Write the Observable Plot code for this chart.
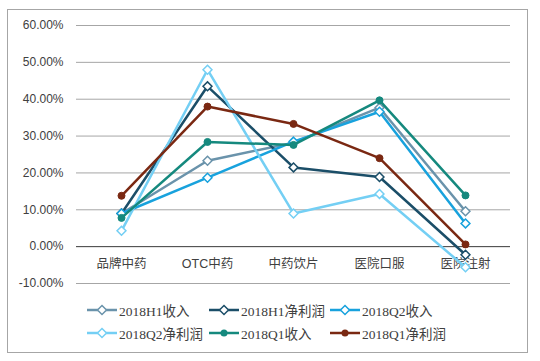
<!DOCTYPE html>
<html><head><meta charset="utf-8">
<script src="https://cdn.jsdelivr.net/npm/d3@7"></script>
<script src="https://cdn.jsdelivr.net/npm/@observablehq/plot@0.6"></script>
<style>
body{margin:0;background:#fff;}
#wrap{position:relative;width:540px;height:361px;overflow:hidden;background:#fff;}
#frame{position:absolute;left:7px;top:9px;width:519px;height:342px;border:1px solid #a6a6a6;}
#chart{position:absolute;left:0;top:0;}
.leg{position:absolute;display:flex;align-items:center;height:20px;font-size:13.5px;font-family:"Liberation Serif","Noto Sans CJK SC",serif;color:#404040;white-space:nowrap;}
.leg svg{margin-right:2px;}
</style></head><body>
<div id="wrap"><div id="frame"></div><div id="chart"></div><div id="legend"></div></div>
<script>
const categories = ["品牌中药", "OTC中药", "中药饮片", "医院口服", "医院注射"];
const seriesNames = ["2018H1收入", "2018H1净利润", "2018Q2收入", "2018Q2净利润", "2018Q1收入", "2018Q1净利润"];
const seriesColors = ["#6a93ab", "#1b4e68", "#18a2dd", "#74cff4", "#15897e", "#7a2812"];
const seriesSymbols = ["diamond2", "diamond2", "diamond2", "diamond2", "circle", "circle"];
const h1Revenue = [9.0, 23.3, 28.2, 37.7, 9.6];
const h1Profit  = [9.0, 43.5, 21.5, 18.9, -2.2];
const q2Revenue = [9.0, 18.7, 28.5, 36.6, 6.3];
const q2Profit  = [4.3, 48.0, 9.0, 14.3, -5.6];
const q1Revenue = [7.8, 28.4, 27.6, 39.7, 13.9];
const q1Profit  = [13.8, 38.0, 33.3, 24.0, 0.6];
const yTicks = [-10, 0, 10, 20, 30, 40, 50, 60];

const seriesValues = [h1Revenue, h1Profit, q2Revenue, q2Profit, q1Revenue, q1Profit];
const data = seriesNames.flatMap((name, i) =>
  categories.map((c, j) => ({series: name, cat: c, value: seriesValues[i][j]})));

const marks = [
  Plot.ruleY(yTicks.filter(t => t !== 0), {stroke: "#a6a6a6", strokeWidth: 1}),
  Plot.ruleY([0], {stroke: "#3a3a3a", strokeWidth: 1}),
  Plot.axisY({ticks: yTicks, tickSize: 0, tickPadding: 13, tickFormat: d => d.toFixed(2) + "%", label: null, fill: "#404040"}),
  Plot.text(categories, {x: d => d, y: () => 0, dy: 17, fill: "#404040", fontSize: 12.5, fontFamily: "Liberation Sans, Noto Sans CJK SC"})
];
seriesNames.forEach((name, i) => {
  const d = data.filter(r => r.series === name);
  marks.push(Plot.line(d, {x: "cat", y: "value", stroke: seriesColors[i], strokeWidth: 2.5}));
  if (seriesSymbols[i] === "circle") {
    marks.push(Plot.dot(d, {x: "cat", y: "value", symbol: "circle", r: 3.5, fill: seriesColors[i], stroke: seriesColors[i], strokeWidth: 1}));
  } else {
    marks.push(Plot.dot(d, {x: "cat", y: "value", symbol: "diamond2", r: 4, fill: "white", stroke: seriesColors[i], strokeWidth: 1.5}));
  }
});

const chart = Plot.plot({
  width: 540, height: 300,
  marginLeft: 76, marginRight: 30, marginTop: 25, marginBottom: 17,
  x: {type: "point", domain: categories, padding: 0.5, axis: null},
  y: {domain: [-10, 60], axis: null},
  style: {fontFamily: "Liberation Sans, Arial, sans-serif", fontSize: "12px", background: "transparent", overflow: "visible"},
  marks
});
document.getElementById("chart").appendChild(chart);

// legend
const legend = document.getElementById("legend");
const colX = [87, 209, 330];
const rowY = [300, 323];
seriesNames.forEach((name, i) => {
  const item = document.createElement("div");
  item.className = "leg";
  item.style.left = colX[i % 3] + "px";
  item.style.top = rowY[Math.floor(i / 3)] + "px";
  const ns = "http://www.w3.org/2000/svg";
  const sw = document.createElementNS(ns, "svg");
  sw.setAttribute("width", 30); sw.setAttribute("height", 12);
  const ln = document.createElementNS(ns, "line");
  ln.setAttribute("x1", 0); ln.setAttribute("x2", 30); ln.setAttribute("y1", 6); ln.setAttribute("y2", 6);
  ln.setAttribute("stroke", seriesColors[i]); ln.setAttribute("stroke-width", 2.5);
  sw.appendChild(ln);
  if (seriesSymbols[i] === "circle") {
    const c = document.createElementNS(ns, "circle");
    c.setAttribute("cx", 15); c.setAttribute("cy", 6); c.setAttribute("r", 3.5);
    c.setAttribute("fill", seriesColors[i]);
    sw.appendChild(c);
  } else {
    const p = document.createElementNS(ns, "path");
    p.setAttribute("d", "M15,1.5L19.5,6L15,10.5L10.5,6Z");
    p.setAttribute("fill", "white"); p.setAttribute("stroke", seriesColors[i]); p.setAttribute("stroke-width", 1.5);
    sw.appendChild(p);
  }
  item.appendChild(sw);
  const t = document.createElement("span");
  t.textContent = name;
  item.appendChild(t);
  legend.appendChild(item);
});
</script>
</body></html>
